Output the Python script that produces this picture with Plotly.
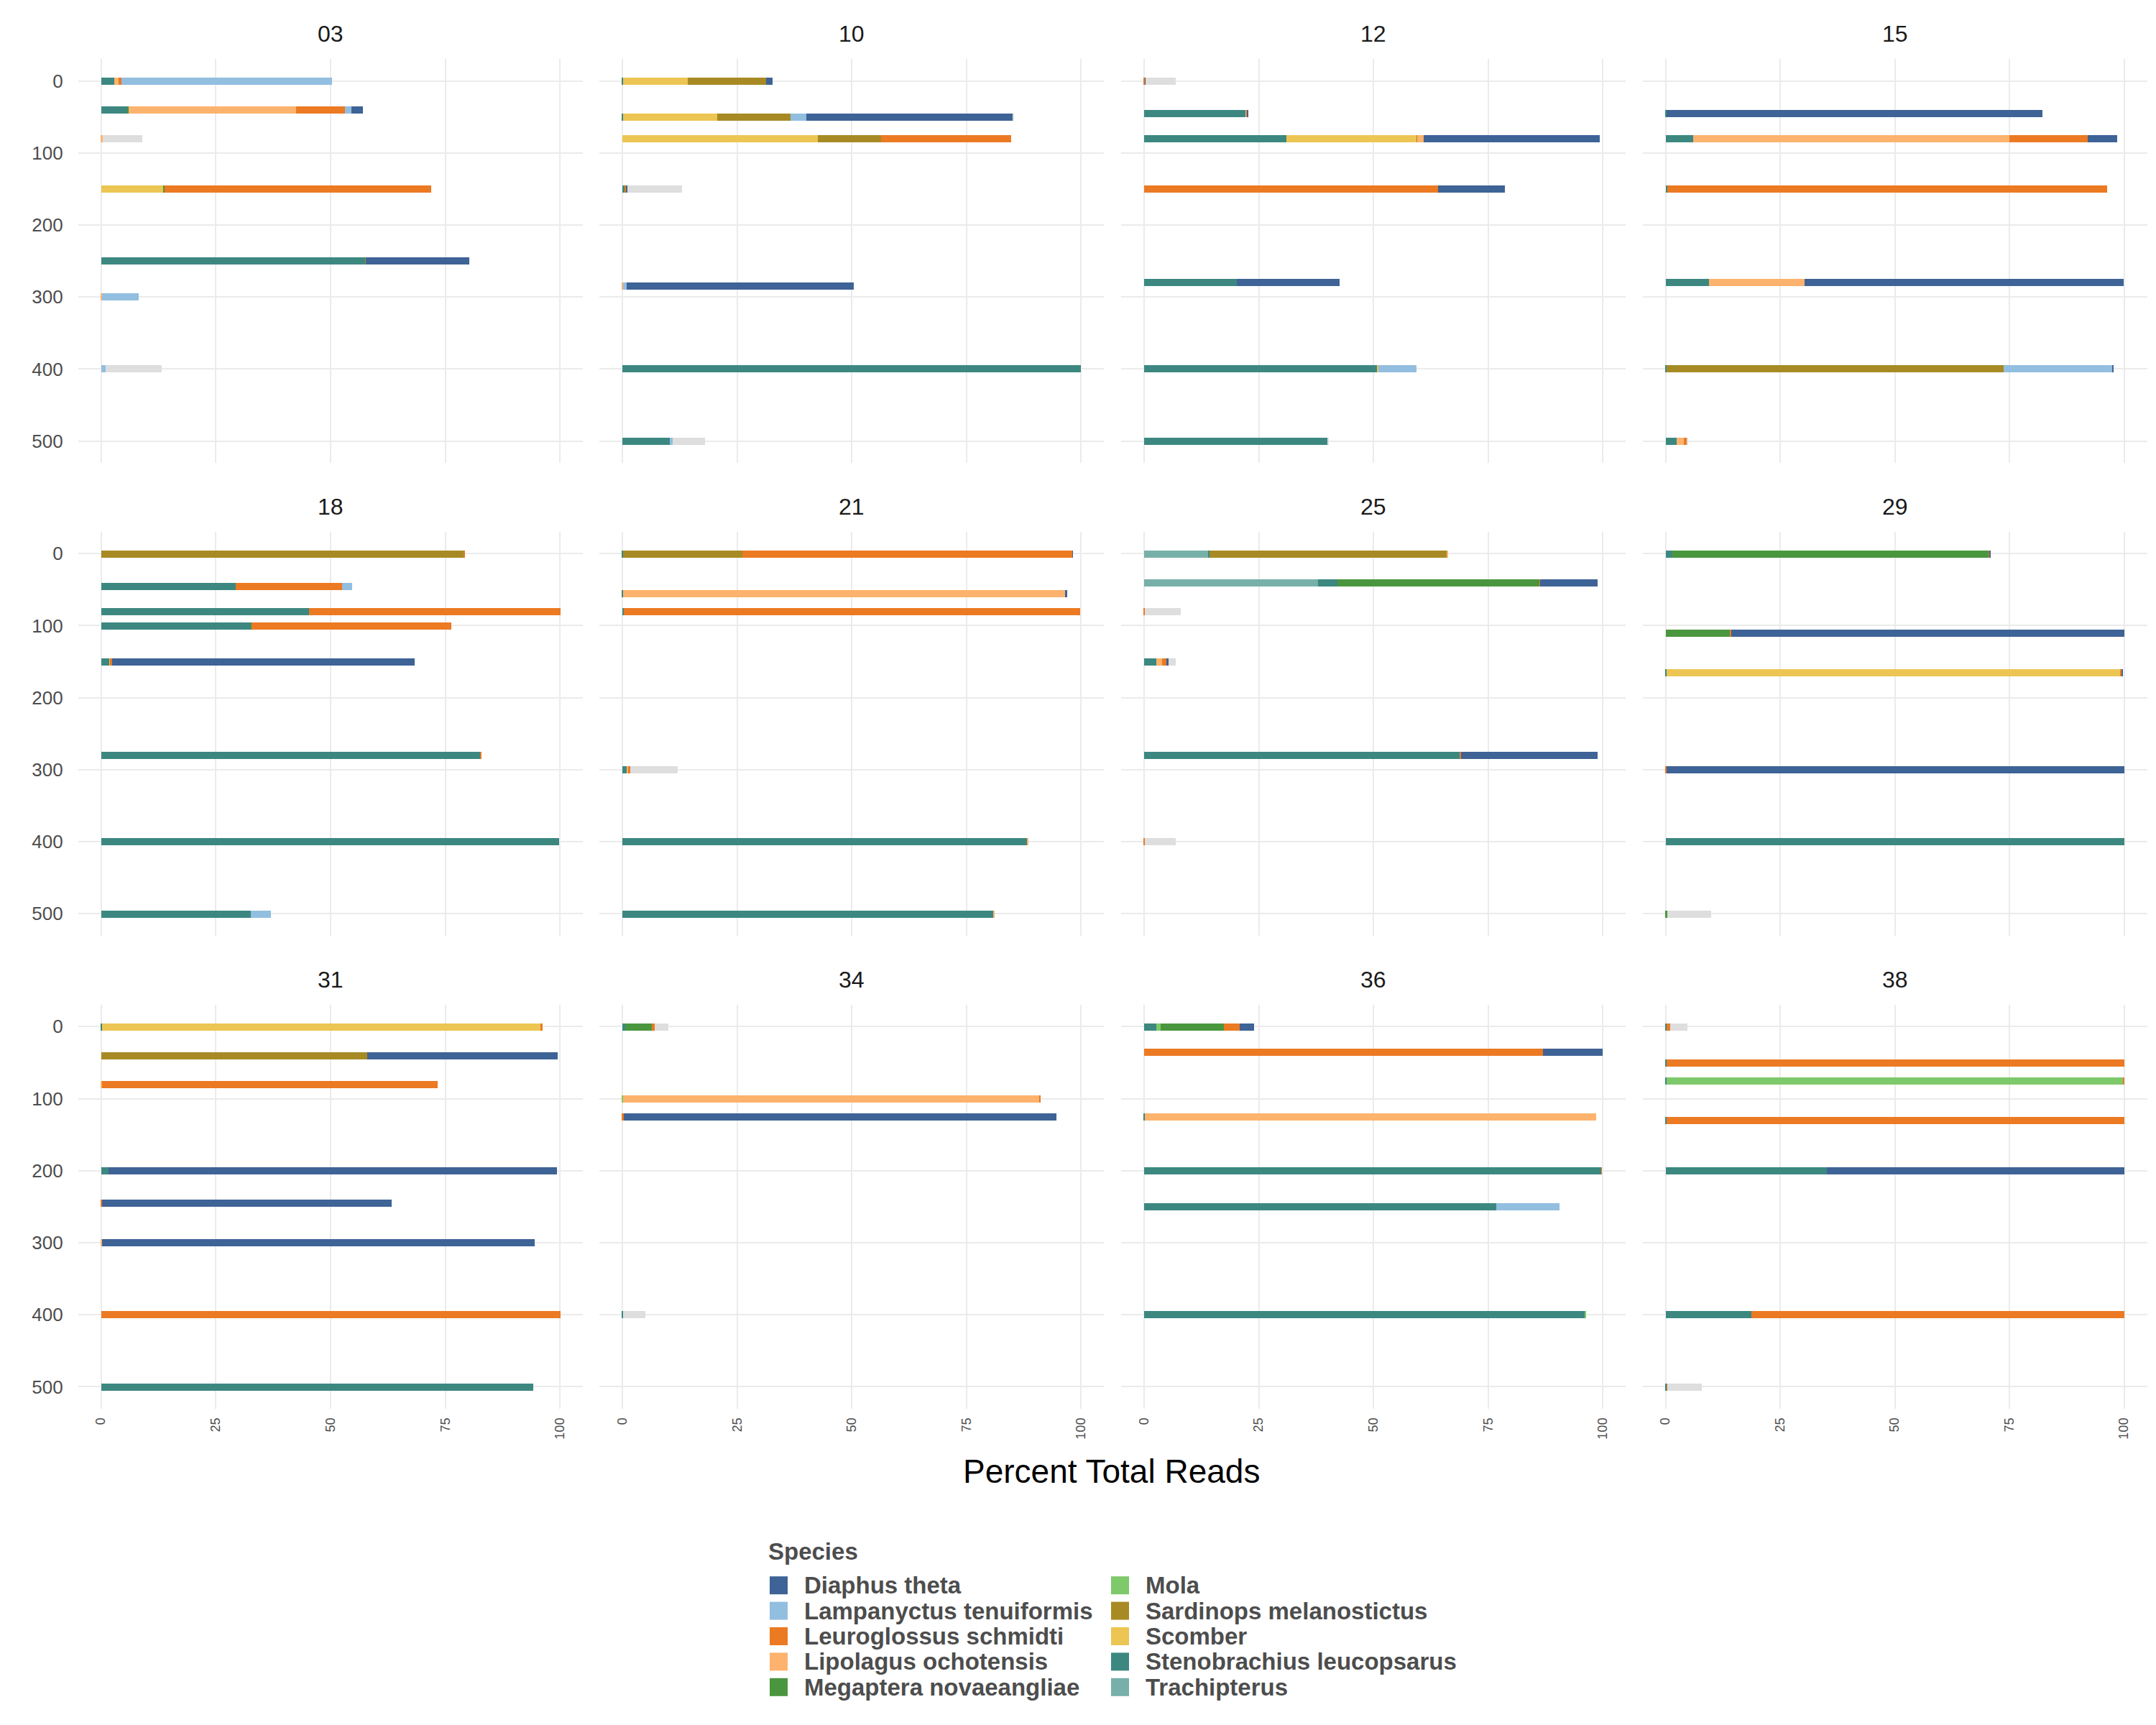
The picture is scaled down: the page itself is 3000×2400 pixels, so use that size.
import plotly.graph_objects as go
from plotly.subplots import make_subplots

# ---------------- data ----------------
stations = ["03", "10", "12", "15", "18", "21", "25", "29", "31", "34", "36", "38"]

depths = [
    [0, 40, 80, 150, 250, 300, 400],        # 03
    [0, 50, 80, 150, 285, 400, 500],        # 10
    [0, 45, 80, 150, 280, 400, 500],        # 12
    [45, 80, 150, 280, 400, 500],           # 15
    [0, 45, 80, 100, 150, 280, 400, 500],   # 18
    [0, 55, 80, 300, 400, 500],             # 21
    [0, 40, 80, 150, 280, 400],             # 25
    [0, 110, 165, 300, 400, 500],           # 29
    [0, 40, 80, 200, 245, 300, 400, 500],   # 31
    [0, 100, 125, 400],                     # 34
    [0, 35, 125, 200, 250, 400],            # 36
    [0, 50, 75, 130, 200, 400, 500],        # 38
]

# percent of total reads, one sub-list per station (aligned with depths)
diaphus_theta = [
    [0, 2.5, 0, 0, 22.6, 0, 0],
    [1.4, 45.1, 0, 0.35, 49.5, 0, 0],
    [0.15, 0.2, 38.3, 14.5, 22.3, 0, 0],
    [82.0, 6.5, 0, 69.6, 0.15, 0],
    [0, 0, 0, 0, 65.8, 0, 0, 0],
    [0.1, 0.3, 0, 0, 0, 0],
    [0, 12.4, 0, 0.4, 29.8, 0],
    [0.15, 85.8, 0.35, 99.85, 0, 0],
    [0, 41.4, 0, 97.7, 63.1, 94.2, 0, 0],
    [0, 0, 94.3, 0],
    [3.1, 12.9, 0, 0, 0, 0],
    [0, 0, 0, 0, 64.8, 0, 0],
]
lampanyctus_tenuiformis = [
    [45.9, 1.4, 0, 0, 0, 7.9, 1.0],
    [0, 3.3, 0, 0, 0.8, 0, 0.7],
    [0, 0, 0, 0, 0, 8.3, 0],
    [0, 0, 0, 0, 23.7, 0],
    [0, 2.2, 0, 0, 0, 0, 0, 4.3],
    [0, 0, 0, 0, 0, 0],
    [0, 0, 0, 0, 0, 0],
    [0, 0, 0, 0, 0, 0],
    [0, 0, 0, 0, 0, 0, 0, 0],
    [0, 0, 0, 0],
    [0, 0, 0, 0, 13.8, 0],
    [0, 0, 0, 0, 0, 0, 0],
]
leuroglossus_schmidti = [
    [0.7, 10.6, 0, 58.0, 0, 0, 0],
    [0, 0, 28.3, 0.2, 0, 0, 0],
    [0.2, 0.15, 0, 64.1, 0, 0, 0],
    [0, 17.0, 95.9, 0, 0, 0.6],
    [0.1, 23.1, 54.7, 43.5, 0.5, 0.1, 0, 0],
    [71.9, 0, 99.4, 0.5, 0, 0],
    [0, 0.2, 0.2, 1.0, 0.15, 0.2],
    [0.15, 0.2, 0.2, 0.15, 0, 0],
    [0.5, 0, 73.1, 0, 0.2, 0, 100.0, 0],
    [0.6, 0.3, 0.3, 0],
    [3.5, 87.0, 0, 0.1, 0, 0],
    [0.7, 99.85, 0.15, 99.85, 0, 81.3, 0.15],
]
lipolagus_ochotensis = [
    [0.8, 36.5, 0.3, 0, 0, 0.2, 0],
    [0, 0, 0, 0, 0.15, 0, 0],
    [0, 0.15, 1.4, 0, 0, 0, 0],
    [0, 69.1, 0, 20.9, 0, 1.6],
    [0, 0, 0, 0, 0, 0, 0, 0],
    [0, 96.5, 0, 0.4, 0.1, 0.3],
    [0.2, 0, 0, 1.2, 0, 0],
    [0, 0, 0, 0, 0, 0],
    [0, 0, 0.2, 0, 0, 0.15, 0, 0],
    [0, 90.8, 0, 0],
    [0, 0, 98.4, 0, 0, 0],
    [0, 0, 0, 0, 0, 0, 0],
]
megaptera_novaeangliae = [
    [0, 0.4, 0, 0.2, 0, 0, 0],
    [0, 0, 0, 0.2, 0, 0, 0],
    [0, 0, 0, 0, 0, 0, 0],
    [0, 0, 0, 0, 0, 0],
    [0, 0, 0, 0.1, 0, 0, 0, 0],
    [0, 0, 0, 0, 0, 0],
    [0, 44.0, 0, 0, 0, 0],
    [69.0, 14.0, 0, 0, 0, 0.3],
    [0, 0, 0, 0, 0, 0, 0, 0],
    [5.8, 0, 0, 0],
    [13.8, 0, 0, 0, 0, 0],
    [0, 0, 0, 0, 0, 0, 0],
]
mola = [
    [0, 0, 0, 0, 0, 0, 0],
    [0, 0, 0, 0, 0, 0, 0],
    [0, 0, 0, 0, 0, 0, 0],
    [0, 0, 0, 0, 0, 0],
    [0, 0, 0, 0, 0, 0, 0, 0],
    [0, 0, 0, 0, 0, 0],
    [0, 0, 0, 0, 0, 0],
    [0, 0, 0, 0, 0, 0],
    [0, 0, 0, 0, 0, 0, 0, 0],
    [0, 0.15, 0, 0],
    [0.9, 0, 0, 0, 0, 0.15],
    [0, 0, 99.7, 0, 0, 0, 0],
]
sardinops_melanostictus = [
    [0, 0, 0, 0, 0.1, 0, 0],
    [17.1, 16.0, 13.7, 0, 0, 0, 0],
    [0, 0, 0.1, 0, 0, 0, 0],
    [0, 0, 0, 0, 73.6, 0],
    [79.0, 0, 0, 0, 0, 0, 0, 0],
    [26.0, 0, 0, 0, 0, 0],
    [51.8, 0, 0, 0, 0, 0],
    [0, 0, 0, 0, 0, 0],
    [0, 58.0, 0, 0, 0, 0, 0, 0],
    [0, 0, 0, 0],
    [0, 0, 0, 0, 0, 0],
    [0, 0, 0, 0, 0, 0, 0],
]
scomber = [
    [0, 0, 0, 13.6, 0, 0, 0],
    [14.0, 20.6, 42.7, 0, 0, 0, 0],
    [0, 0, 28.5, 0, 0, 0.15, 0],
    [0, 0, 0, 0, 0, 0],
    [0, 0, 0, 0, 0.1, 0, 0, 0],
    [0, 0, 0, 0, 0, 0],
    [0, 0, 0, 0, 0, 0],
    [0, 0, 99.0, 0, 0, 0],
    [95.5, 0, 0, 0, 0, 0, 0, 0],
    [0, 0, 0, 0],
    [0, 0, 0, 0, 0, 0],
    [0, 0, 0, 0, 0, 0, 0],
]
stenobrachius_leucopsarus = [
    [2.9, 5.6, 0, 0, 57.5, 0, 0],
    [0.2, 0.15, 0, 0.4, 0, 99.9, 10.3],
    [0, 22.2, 31.0, 0, 20.3, 50.9, 40.1],
    [0.2, 5.9, 0.35, 9.4, 0.15, 2.3],
    [0, 29.3, 45.3, 32.7, 1.8, 82.6, 99.8, 32.6],
    [0.2, 0.15, 0.4, 0.9, 88.3, 80.9],
    [0.2, 4.3, 0, 2.7, 68.9, 0],
    [1.5, 0, 0.15, 0, 100.0, 0],
    [0.2, 0, 0, 1.5, 0, 0, 0, 94.1],
    [0.7, 0, 0, 0.15],
    [2.7, 0, 0.15, 99.7, 76.8, 96.1],
    [0.2, 0.15, 0.15, 0.15, 35.2, 18.7, 0.2],
]
trachipterus = [
    [0, 0, 0, 0, 0, 0, 0],
    [0, 0, 0, 0, 0, 0, 0],
    [0, 0, 0, 0, 0, 0, 0],
    [0, 0, 0, 0, 0, 0],
    [0, 0, 0, 0, 0, 0, 0, 0],
    [0, 0, 0, 0, 0, 0],
    [14.0, 37.9, 0, 0, 0, 0],
    [0, 0, 0, 0, 0, 0],
    [0, 0, 0, 0, 0, 0, 0, 0],
    [0, 0, 0, 0],
    [0, 0, 0, 0, 0, 0],
    [0, 0, 0, 0, 0, 0, 0],
]
other_taxa = [
    [0, 0, 8.6, 0, 0, 0, 12.1],
    [0, 0.15, 0, 11.8, 0, 0, 7.0],
    [6.5, 0, 0, 0, 0, 0, 0.15],
    [0, 0, 0, 0, 0, 0.4],
    [0, 0, 0, 0, 0, 0, 0, 0],
    [0, 0, 0, 10.2, 0, 0],
    [0, 0, 7.8, 1.6, 0, 6.7],
    [0, 0, 0, 0, 0, 9.6],
    [0, 0, 0, 0, 0, 0, 0, 0],
    [2.9, 0, 0, 4.8],
    [0, 0, 0, 0, 0, 0],
    [3.8, 0, 0, 0, 0, 0, 7.5],
]

species_names = [
    "Diaphus theta", "Lampanyctus tenuiformis", "Leuroglossus schmidti",
    "Lipolagus ochotensis", "Megaptera novaeangliae", "Mola",
    "Sardinops melanostictus", "Scomber", "Stenobrachius leucopsarus", "Trachipterus",
]
species_colors = [
    "#3E6396", "#92BEE0", "#EB7A23", "#FDB36D", "#4A963E", "#7EC96A",
    "#A88A24", "#ECC552", "#3C8881", "#77B0A9",
]
species_values = [
    diaphus_theta, lampanyctus_tenuiformis, leuroglossus_schmidti,
    lipolagus_ochotensis, megaptera_novaeangliae, mola,
    sardinops_melanostictus, scomber, stenobrachius_leucopsarus, trachipterus,
]
other_color = "#DEDEDE"

x_ticks = [0, 25, 50, 75, 100]
y_ticks = [0, 100, 200, 300, 400, 500]

for arr in species_values + [other_taxa]:
    assert len(arr) == len(stations)
    for a, d in zip(arr, depths):
        assert len(a) == len(d)

# ---------------- layout geometry (pixels) ----------------
W, H = 3000, 2400
col_px = [(108.7, 811.3), (834.3, 1536.4), (1560.1, 2262.2), (2285.7, 2987.5)]
row_px = [(82.0, 644.2), (739.7, 1301.9), (1397.8, 1960.0)]
FONT = "Liberation Sans, Arial, Helvetica, sans-serif"

fig = make_subplots(rows=3, cols=4)

# stacking order (left to right): reverse of the legend order, then the grey remainder
stack_order = list(range(len(species_names)))[::-1]

for si, st in enumerate(stations):
    r, c = si // 4 + 1, si % 4 + 1
    for k in stack_order:
        fig.add_trace(go.Bar(
            x=species_values[k][si], y=depths[si], orientation="h", width=10,
            marker=dict(color=species_colors[k], line=dict(width=0)),
            name=species_names[k], showlegend=False,
        ), row=r, col=c)
    fig.add_trace(go.Bar(
        x=other_taxa[si], y=depths[si], orientation="h", width=10,
        marker=dict(color=other_color, line=dict(width=0)),
        name="Other", showlegend=False,
    ), row=r, col=c)

annotations = []
for si, st in enumerate(stations):
    ri, ci = si // 4, si % 4
    x0, x1 = col_px[ci]
    y0, y1 = row_px[ri]
    idx = si + 1
    xa = "xaxis" if idx == 1 else f"xaxis{idx}"
    ya = "yaxis" if idx == 1 else f"yaxis{idx}"
    fig.layout[xa].update(
        domain=[x0 / W, x1 / W], range=[-5, 105], tickvals=x_ticks,
        showticklabels=(ri == 2), tickangle=-90, ticks="", ticklabelstandoff=8,
        tickfont=dict(size=18, color="#4D4D4D", family=FONT),
        showgrid=True, gridcolor="#EBEBEB", gridwidth=2.4, zeroline=False,
        showline=False, fixedrange=True,
    )
    fig.layout[ya].update(
        domain=[1 - y1 / H, 1 - y0 / H], range=[530.5, -30.5], tickvals=y_ticks,
        showticklabels=(ci == 0), ticks="", ticklabelstandoff=20,
        tickfont=dict(size=26, color="#4D4D4D", family=FONT),
        showgrid=True, gridcolor="#EBEBEB", gridwidth=2.4, zeroline=False,
        showline=False, fixedrange=True,
    )
    annotations.append(dict(
        text=st, x=(x0 + x1) / 2 / W, y=1 - (y0 - 35) / H, xref="paper", yref="paper",
        xanchor="center", yanchor="middle", showarrow=False,
        font=dict(size=32, color="#1A1A1A", family=FONT),
    ))

# x axis title
annotations.append(dict(
    text="Percent Total Reads", x=1546 / W, y=1 - 2047 / H, xref="paper", yref="paper",
    xanchor="center", yanchor="middle", showarrow=False,
    font=dict(size=46, color="#000000", family=FONT),
))

# legend (two columns, column-major)
shapes = []
annotations.append(dict(
    text="<b>Species</b>", x=1067 / W, y=1 - 2158 / H, xref="paper", yref="paper",
    xanchor="left", yanchor="middle", showarrow=False,
    font=dict(size=33, color="#4D4D4D", family=FONT),
))
sw_x = [1071, 1546]
tx_x = [1117, 1592]
sw = 25
for i, (name, colr) in enumerate(zip(species_names, species_colors)):
    cc, rr = i // 5, i % 5
    yc = 2205.7 + rr * 35.4
    shapes.append(dict(
        type="rect", xref="paper", yref="paper",
        x0=sw_x[cc] / W, x1=(sw_x[cc] + sw) / W,
        y0=1 - (yc + sw / 2) / H, y1=1 - (yc - sw / 2) / H,
        fillcolor=colr, line=dict(width=0),
    ))
    annotations.append(dict(
        text=f"<b>{name}</b>", x=tx_x[cc] / W, y=1 - yc / H, xref="paper", yref="paper",
        xanchor="left", yanchor="middle", showarrow=False,
        font=dict(size=33, color="#4D4D4D", family=FONT),
    ))

fig.update_layout(
    width=W, height=H, margin=dict(l=0, r=0, t=0, b=0),
    barmode="stack", bargap=0, showlegend=False,
    plot_bgcolor="white", paper_bgcolor="white",
    annotations=annotations, shapes=shapes,
    font=dict(family=FONT),
)

fig.write_html("out.html")
